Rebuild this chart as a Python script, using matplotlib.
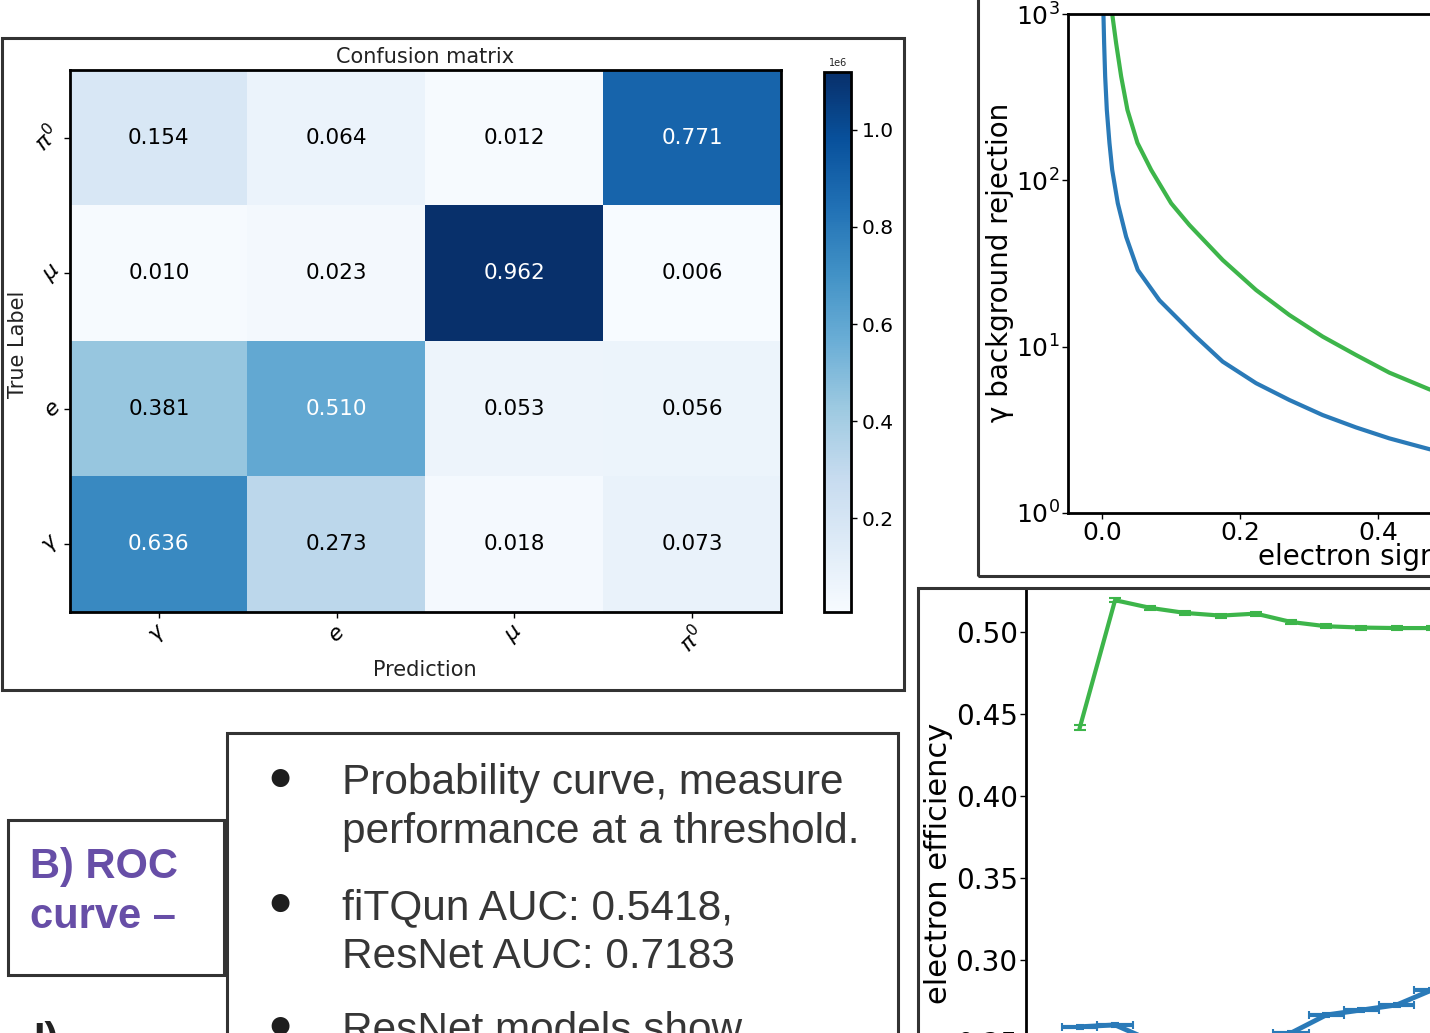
import numpy as np
import matplotlib
matplotlib.use("Agg")
import matplotlib.pyplot as plt
from matplotlib.patches import Rectangle
from matplotlib.ticker import FuncFormatter, NullLocator, MultipleLocator, FormatStrFormatter

W, H = 1430, 1033

# ---- confusion matrix ----
true_labels = [r'$\pi^0$', r'$\mu$', r'$e$', r'$\gamma$']      # rows, top to bottom
pred_labels = [r'$\gamma$', r'$e$', r'$\mu$', r'$\pi^0$']      # columns, left to right
fractions = [[0.154, 0.064, 0.012, 0.771],
             [0.010, 0.023, 0.962, 0.006],
             [0.381, 0.510, 0.053, 0.056],
             [0.636, 0.273, 0.018, 0.073]]
# event counts behind the colours (millions)
counts_m = [[0.179, 0.074, 0.014, 0.897],
            [0.012, 0.027, 1.119, 0.007],
            [0.443, 0.593, 0.062, 0.065],
            [0.740, 0.318, 0.021, 0.085]]
cbar_ticks = [0.2, 0.4, 0.6, 0.8, 1.0]

# ---- ROC curves (electron signal efficiency vs gamma rejection) ----
roc_eff_blue = [0.0014, 0.0024, 0.0039, 0.0063, 0.0101, 0.0141, 0.0222, 0.0343, 0.0512,
                0.0826, 0.1333, 0.1743, 0.2228, 0.271, 0.3193, 0.3677, 0.416, 0.474, 0.49]
roc_rej_blue = [1000, 667, 421, 265, 168, 115.5, 72.8, 45.8, 28.9,
                19.0, 11.7, 8.13, 6.03, 4.78, 3.88, 3.27, 2.81, 2.42, 2.34]
roc_eff_green = [0.0141, 0.0198, 0.0271, 0.0362, 0.0507, 0.0706, 0.0996, 0.126, 0.1743,
                 0.2228, 0.271, 0.3193, 0.3677, 0.416, 0.474, 0.49]
roc_rej_green = [1000, 667, 421, 265, 168, 115.5, 72.8, 53.9, 33.2,
                 21.9, 15.5, 11.5, 8.91, 6.98, 5.54, 5.25]

# ---- electron efficiency per bin ----
bin_index = [0, 1, 2, 3, 4, 5, 6, 7, 8, 9, 10]
eff_green = [0.4418, 0.5194, 0.5147, 0.5116, 0.5100, 0.5112, 0.5061, 0.5035, 0.5027, 0.5024, 0.5024]
err_green = [0.0015, 0.0012, 0.0012, 0.0012, 0.0012, 0.0012, 0.0012, 0.0012, 0.0012, 0.0012, 0.0012]
eff_blue = [0.2593, 0.2604, 0.2510, 0.2525, 0.2500, 0.2510, 0.2555, 0.2665, 0.2695, 0.2726, 0.2817]
err_blue = [0.0012, 0.0012, 0.0012, 0.0012, 0.0012, 0.0012, 0.0012, 0.0012, 0.0012, 0.0012, 0.0012]
bin_halfwidth = [0.5, 0.5, 0.5, 0.5, 0.5, 0.5, 0.5, 0.5, 0.5, 0.5, 0.5]

# ---- slide text ----
box_title = ['B) ROC', 'curve \u2013']
bullet_lines = [('\u25cf', 'Probability curve, measure'),
                ('', 'performance at a threshold.'),
                ('\u25cf', 'fiTQun AUC: 0.5418,'),
                ('', 'ResNet AUC: 0.7183'),
                ('\u25cf', 'ResNet models show')]
bullet_baselines = [794, 843, 919, 968, 1042]

BLUE = '#2a7ab8'
GREEN = '#3db54a'
FRAME = '#333333'
PURPLE = '#674ea7'
TXT = '#363636'

fig = plt.figure(figsize=(W / 100, H / 100), dpi=100)
fig.patch.set_facecolor('white')


def box(x0, y0, x1, y1):
    return [x0 / W, 1 - y1 / H, (x1 - x0) / W, (y1 - y0) / H]


def frame(x0, y0, x1, y1, lw=2.2):
    fig.add_artist(Rectangle((x0 / W, 1 - y1 / H), (x1 - x0) / W, (y1 - y0) / H,
                             transform=fig.transFigure, fill=False, lw=lw, ec=FRAME))


def ftext(x, y, s, **kw):
    return fig.text(x / W, 1 - y / H, s, **kw)


# frames of the slide
frame(2, 38, 904, 690)
frame(978, -30, 1500, 576)
frame(918, 588, 1500, 1120)
frame(8, 820, 224, 975)
frame(227, 733, 898, 1120)

# confusion matrix
ax = fig.add_axes(box(70, 70, 781, 612))
counts = np.array(counts_m) * 1e6
im = ax.imshow(counts, cmap='Blues', aspect='auto', interpolation='nearest')
for i in range(4):
    for j in range(4):
        ax.text(j, i, f'{fractions[i][j]:.3f}', ha='center', va='center', fontsize=15.5,
                color='white' if counts[i, j] > counts.max() / 2 else 'black')
ax.set_xticks(range(4))
ax.set_xticklabels(pred_labels, rotation=45, fontsize=16)
ax.set_yticks(range(4))
ax.set_yticklabels(true_labels, rotation=45, fontsize=16, va='center')
ax.tick_params(axis='x', length=4, width=1, pad=3)
ax.tick_params(axis='y', length=4, width=1, pad=0)
for s in ax.spines.values():
    s.set_linewidth(2)

ftext(425, 57, 'Confusion matrix', ha='center', va='center', fontsize=15, color='#222222')
ftext(425, 670, 'Prediction', ha='center', va='center', fontsize=15, color='#222222')
ftext(18, 344, 'True Label', ha='center', va='center', fontsize=15, rotation=90, color='#222222')

cax = fig.add_axes(box(824, 72, 851, 612))
cb = fig.colorbar(im, cax=cax, ticks=[t * 1e6 for t in cbar_ticks])
cb.ax.yaxis.set_major_formatter(FuncFormatter(lambda v, p: f'{v / 1e6:.1f}'))
cb.outline.set_linewidth(2)
cax.tick_params(labelsize=14.5, length=4, width=1)
ftext(838, 63, '1e6', ha='center', va='center', fontsize=7, color='#222222')

# ROC panel
ax_roc = fig.add_axes(box(1068, 14, 1792, 513))
ax_roc.plot(roc_eff_blue, roc_rej_blue, color=BLUE, lw=3)
ax_roc.plot(roc_eff_green, roc_rej_green, color=GREEN, lw=3)
ax_roc.set_yscale('log')
ax_roc.set_ylim(1, 1000)
ax_roc.set_xlim(-0.05, 1.0)
ax_roc.set_xticks([0.0, 0.2, 0.4, 0.6, 0.8, 1.0])
ax_roc.yaxis.set_minor_locator(NullLocator())
ax_roc.tick_params(labelsize=18, length=4, width=1, pad=2)
for s in ax_roc.spines.values():
    s.set_linewidth(2)
ftext(1000, 262, '\u03b3 background rejection', ha='center', va='center', rotation=90, fontsize=20)
ftext(1258, 565, 'electron signal efficiency', ha='left', va='baseline', fontsize=20)

# efficiency panel
ax_eff = fig.add_axes(box(1026, 588, 1730, 1300))
ax_eff.errorbar(bin_index, eff_green, yerr=err_green, color=GREEN, lw=3,
                elinewidth=1.5, capsize=4, capthick=1.5)
ax_eff.errorbar(bin_index, eff_blue, yerr=err_blue, xerr=bin_halfwidth, color=BLUE, lw=3.5,
                elinewidth=3, capsize=3, capthick=1.5)
ax_eff.set_xlim(-1.53, 18.47)
ax_eff.set_ylim(0.50 - (1300 - 632) / 1640, 0.50 + (632 - 588) / 1640)
ax_eff.yaxis.set_major_locator(MultipleLocator(0.05))
ax_eff.yaxis.set_major_formatter(FormatStrFormatter('%.2f'))
ax_eff.tick_params(labelsize=20, length=4, width=1, pad=2)
for s in ax_eff.spines.values():
    s.set_linewidth(2)
ftext(939, 863, 'electron efficiency', ha='center', va='center', rotation=90, fontsize=22)

# slide text
for k, line in enumerate(box_title):
    ftext(30, [878, 928][k], line, ha='left', va='baseline', fontsize=30, fontweight='bold',
          color=PURPLE, family=['Liberation Sans', 'DejaVu Sans'])
for (bullet, line), yb in zip(bullet_lines, bullet_baselines):
    if bullet:
        ftext(280, yb - 15, bullet, ha='center', va='center', fontsize=30, color='#1e1e1e',
              family=['Liberation Sans', 'DejaVu Sans'])
    ftext(342, yb, line, ha='left', va='baseline', fontsize=30.5, color=TXT,
          family=['Liberation Sans', 'DejaVu Sans'])
ftext(33, 1021, 'I)', ha='left', va='top', fontsize=30, fontweight='bold', color='#222222',
      family=['Liberation Sans', 'DejaVu Sans'])

fig.savefig('out.png', dpi=100)
